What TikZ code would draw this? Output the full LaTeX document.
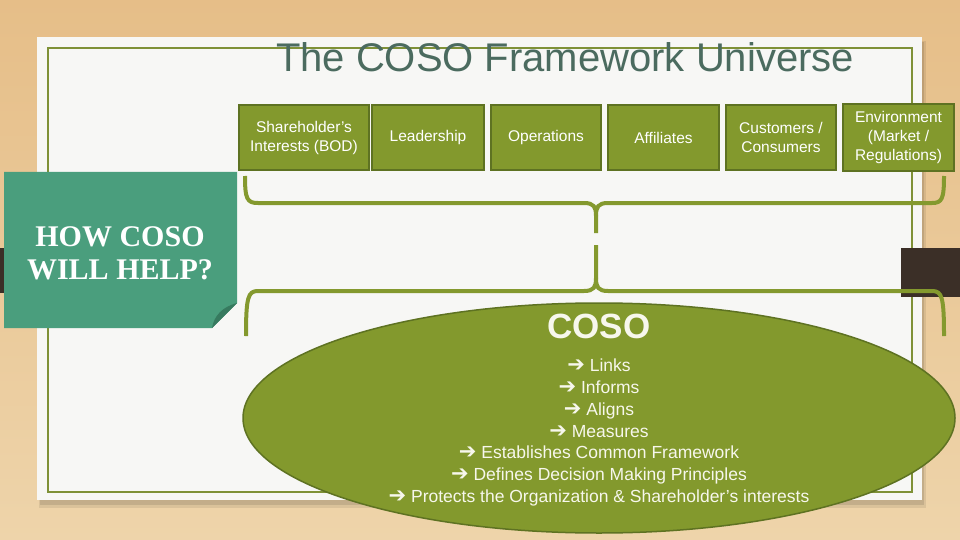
\documentclass[tikz,border=0pt]{standalone}
\usepackage{fontspec}
\setmainfont{Liberation Sans}
\newfontfamily\helpfont{Liberation Serif}
\newfontfamily\arrowfont{DejaVu Sans}
\usetikzlibrary{shapes.geometric}

\definecolor{olive}{HTML}{83992D}
\definecolor{olivedark}{HTML}{5E7222}
\definecolor{bracegreen}{HTML}{84992E}
\definecolor{framegreen}{HTML}{7F9137}
\definecolor{titlecolor}{HTML}{4B6B5F}
\definecolor{tealbox}{HTML}{4A9E7D}
\definecolor{tealfold}{HTML}{377A5F}
\definecolor{darkband}{HTML}{3B2F27}
\definecolor{woodtop}{HTML}{E6BE88}
\definecolor{woodbottom}{HTML}{EED4AA}
\definecolor{paper}{HTML}{F7F7F5}
\definecolor{cream}{HTML}{F7F7EC}

\newcommand{\ra}{{\arrowfont\fontsize{21}{21}\selectfont ➔}}

\begin{document}
\begin{tikzpicture}[x=1pt,y=-1pt]

    \tikzset{boxstyle/.style={draw=olivedark,line width=1.5pt,fill=olive,text=white,minimum height=65pt,inner sep=2pt,align=center,font=\fontsize{15.5}{19}\selectfont}}
    \tikzset{listtext/.style={anchor=base,text=cream,inner sep=0pt,font=\fontsize{17.5}{21}\selectfont}}
    \tikzset{brace/.style={draw=bracegreen,line width=4pt}}

    \useasboundingbox (0,0) rectangle (960,540);
    \fill[top color=woodtop,bottom color=woodbottom] (0,0) rectangle (960,540);
    \fill[darkband] (0,248) rectangle (6,293);
    \fill[black,opacity=0.08] (39,41) rectangle (926,508);
    \fill[black,opacity=0.1] (40,42) rectangle (924,505);
    \fill[paper] (37,37) rectangle (922,500);
    \draw[framegreen,line width=1.5pt] (48,48) rectangle (912,492);
    \fill[darkband] (901,248) rectangle (960,297);

    \node[anchor=base,text=titlecolor,font=\fontsize{40}{48}\selectfont] (title) at (565,72) {The COSO Framework Universe};

    \node[boxstyle,minimum width=130pt] (b1) at (304,137.5) {Shareholder's\\Interests (BOD)};
    \node[boxstyle,minimum width=112pt] (b2) at (428,137.5) {Leadership};
    \node[boxstyle,minimum width=110pt] (b3) at (546,137.5) {Operations};
    \node[boxstyle,minimum width=111pt] (b4) at (663.5,137.5) {Affiliates};
    \node[boxstyle,minimum width=110pt] (b5) at (781,137.5) {Customers /\\Consumers};
    \node[boxstyle,minimum width=111pt,minimum height=67pt] (b6) at (898.5,137.5) {Environment\\(Market /\\Regulations)};

    % Llaves
    \coordinate (t1) at (245,176);
    \coordinate (t2) at (944,176);
    \coordinate (tm) at (596,233);
    \coordinate (u1) at (246,336);
    \coordinate (u2) at (944,336);
    \coordinate (um) at (596,245);

    \draw[brace] (t1) .. controls (245,199) and (247,203) .. (258,203) -- (584,203) .. controls (594,203) and (596,207) .. (596,216) -- (tm);
    \draw[brace] (t2) .. controls (944,199) and (942,203) .. (932,203) -- (608,203) .. controls (598,203) and (596,207) .. (596,216);
    \draw[brace] (um) -- (596,278) .. controls (596,287) and (594,291) .. (584,291) -- (258,291) .. controls (248,291) and (246,297) .. (u1);
    \draw[brace] (596,278) .. controls (596,287) and (598,291) .. (608,291) -- (932,291) .. controls (942,291) and (944,297) .. (u2);

    \fill[tealbox] (4,172) -- (237,172) -- (237,303) -- (212,328) -- (4,328) -- cycle;
    \fill[tealfold] (212,328) .. controls (214,316) and (222,307) .. (237,303) -- cycle;
    \node[anchor=base,text=white,inner sep=0pt,font=\helpfont\bfseries\fontsize{30}{33}\selectfont] (help1) at (120,246) {HOW COSO};
    \node[anchor=base,text=white,inner sep=0pt,font=\helpfont\bfseries\fontsize{30}{33}\selectfont] (help2) at (120,279) {WILL HELP?};

    \node[ellipse,draw=olivedark,line width=1.5pt,fill=olive,minimum width=712pt,minimum height=230pt] (coso) at (599,418) {};

    \node[anchor=base,text=cream,inner sep=0pt,font=\fontsize{35}{40}\selectfont\bfseries] (cosolabel) at (599,338) {COSO};
    \node[listtext] (l1) at (599,371.7) {\ra\ Links};
    \node[listtext] (l2) at (599,393.5) {\ra\ Informs};
    \node[listtext] (l3) at (599,415.3) {\ra\ Aligns};
    \node[listtext] (l4) at (599,437.1) {\ra\ Measures};
    \node[listtext] (l5) at (599,458.9) {\ra\ Establishes Common Framework};
    \node[listtext] (l6) at (599,480.7) {\ra\ Defines Decision Making Principles};
    \node[listtext] (l7) at (599,502.5) {\ra\ Protects the Organization \& Shareholder’s interests};

\end{tikzpicture}
\end{document}
